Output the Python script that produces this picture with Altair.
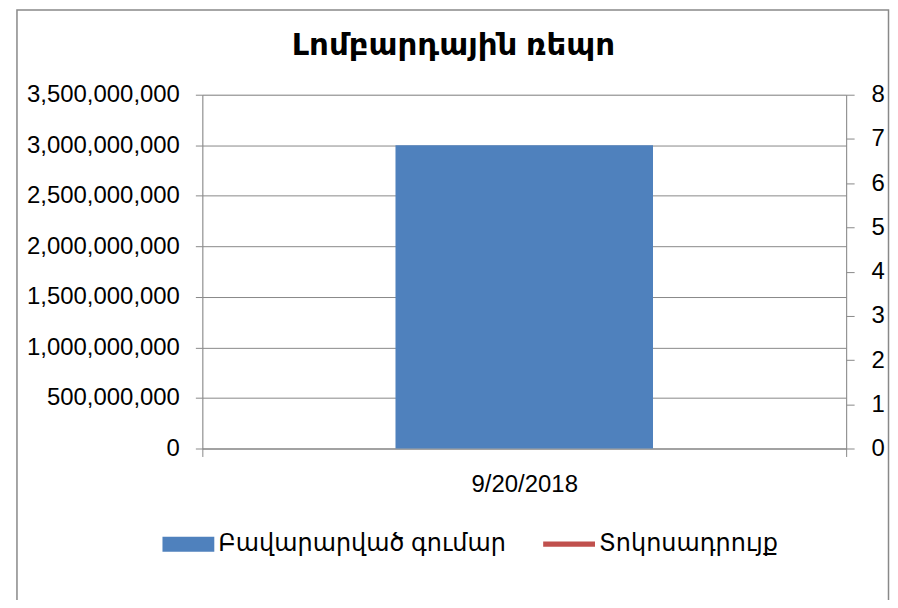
import altair as alt
import pandas as pd

# ---- data ----
dates = ["9/20/2018"]
amounts = [3000000000]
rates = [None]  # no visible value for the rate series
series_names = ["Բավարարված գումար", "Տոկոսադրույք"]
series_colors = ["#4F81BD", "#C0504D"]
left_ticks = [0, 500000000, 1000000000, 1500000000, 2000000000,
              2500000000, 3000000000, 3500000000]
right_ticks = [0, 1, 2, 3, 4, 5, 6, 7, 8]
title_text = "Լոմբարդային ռեպո"

# ---- style ----
W, H = 646, 355
GRAY = "#898989"
FONT = "Liberation Sans, DejaVu Sans, sans-serif"
FS = 24

bar_df = pd.DataFrame({"date": dates, "amount": amounts, "series": series_names[0]})
line_df = pd.DataFrame({"date": dates, "rate": pd.Series(rates, dtype="float"),
                        "series": series_names[1]})
legend_df = pd.DataFrame({"series": series_names})

color_scale = alt.Scale(domain=series_names, range=series_colors)
shape_scale = alt.Scale(domain=series_names,
                        range=["M-1,-0.29H1V0.29H-1Z", "M-1,-0.1H1V0.1H-1Z"])


def make_legend():
    return alt.Legend(title=None, orient="none", direction="horizontal",
                      legendX=-40, legendY=425, padding=0,
                      symbolSize=2704, symbolStrokeWidth=0,
                      symbolOpacity=1, labelOffset=4,
                      columnPadding=37, labelFont=FONT,
                      labelFontSize=FS, labelColor="black",
                      labelLimit=500)


x_enc = alt.X(
    "date:N", title=None,
    scale=alt.Scale(paddingInner=0, paddingOuter=0),
    axis=alt.Axis(labelAngle=0, labelFont=FONT, labelFontSize=FS, labelColor="black",
                  domainColor=GRAY, domainWidth=1, tickColor=GRAY, tickSize=8,
                  tickBand="extent", labelPadding=16, grid=False),
)

border = alt.Chart(bar_df).mark_rect(
    fill="transparent", stroke=GRAY, strokeWidth=1.5
).encode(
    x=alt.value(-186), x2=alt.value(688.5), y=alt.value(-85), y2=alt.value(540)
)

bars = alt.Chart(bar_df).mark_bar(width=alt.RelativeBandSize(0.4)).encode(
    x=x_enc,
    y=alt.Y("amount:Q", title=None,
            scale=alt.Scale(domain=[0, 3500000000], nice=False),
            axis=alt.Axis(orient="left", values=left_ticks, format=",d",
                          labelFont=FONT, labelFontSize=FS, labelColor="black",
                          domainColor=GRAY, tickColor=GRAY, tickSize=7,
                          labelPadding=16, grid=True, gridColor=GRAY, gridWidth=1)),
    color=alt.Color("series:N", scale=color_scale, legend=make_legend()),
)

line = alt.Chart(line_df).mark_line(color=series_colors[1], strokeWidth=3).encode(
    x=x_enc,
    y=alt.Y("rate:Q", title=None,
            scale=alt.Scale(domain=[0, 8], nice=False),
            axis=alt.Axis(orient="right", values=right_ticks,
                          labelFont=FONT, labelFontSize=FS, labelColor="black",
                          domainColor=GRAY, tickColor=GRAY, tickSize=8,
                          labelPadding=17, grid=False)),
)

legend_pts = alt.Chart(legend_df).mark_point(opacity=0, filled=True).encode(
    color=alt.Color("series:N", scale=color_scale, legend=make_legend()),
    shape=alt.Shape("series:N", scale=shape_scale, legend=make_legend()),
)

chart = alt.layer(border, bars, line, legend_pts).resolve_scale(
    y="independent"
).properties(
    width=W, height=H,
    title=alt.TitleParams(text=title_text, fontSize=31, fontWeight="bold",
                          font=FONT, color="black", anchor="middle", dx=-71, dy=57),
    autosize=alt.AutoSizeParams(type="none"),
    padding={"left": 195, "top": 86, "right": 44, "bottom": 151},
).configure_view(stroke=None).configure(background="white")

chart.save("out.html", embed_options={"renderer": "svg", "actions": False})
